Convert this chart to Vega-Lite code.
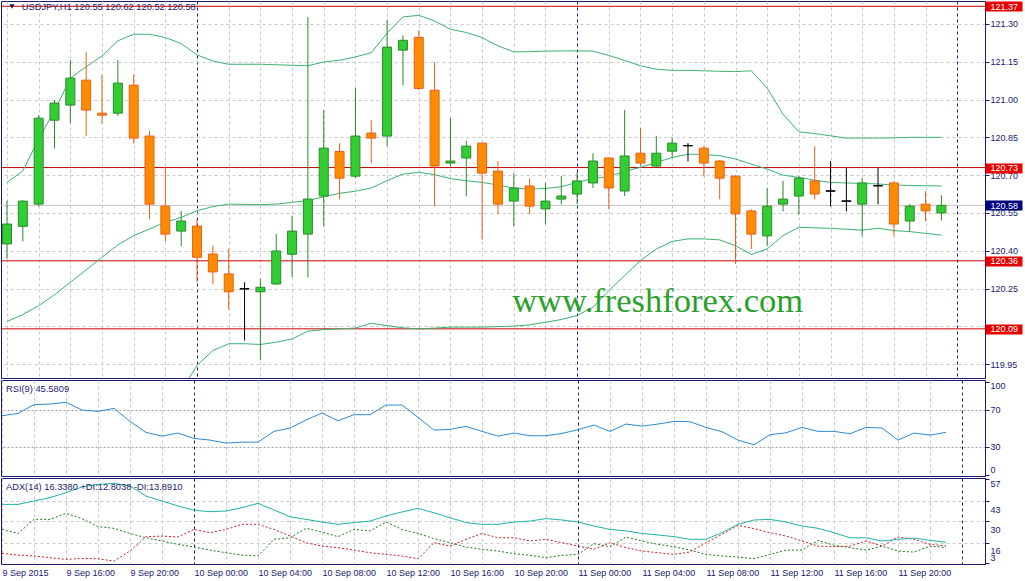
{
  "$schema": "https://vega.github.io/schema/vega-lite/v6.json",
  "padding": 0,
  "background": "white",
  "spacing": 0,
  "config": {
    "font": "Liberation Sans",
    "view": {"stroke": "#1a1a70", "strokeWidth": 1},
    "axis": {"labelFont": "Liberation Sans", "labelFontSize": 9, "labelColor": "#1a1a70", "tickColor": "#1a1a70", "domainColor": "#1a1a70", "labelOverlap": false}
  },
  "datasets": {
    "bars": [
      {"t":"2015-09-09T12:00:00Z","o":120.427,"h":120.599,"l":120.367,"c":120.506,"bbu":120.671,"bbm":120.119,"bbl":119.567,"rsi":63.5,"adx":40.8,"pdi":24.6,"mdi":9.1},
      {"t":"2015-09-09T13:00:00Z","o":120.497,"h":120.6,"l":120.437,"c":120.597,"bbu":120.717,"bbm":120.147,"bbl":119.576,"rsi":66.0,"adx":40.8,"pdi":22.0,"mdi":8.0},
      {"t":"2015-09-09T14:00:00Z","o":120.585,"h":120.938,"l":120.576,"c":120.926,"bbu":120.843,"bbm":120.182,"bbl":119.522,"rsi":75.4,"adx":43.0,"pdi":31.1,"mdi":7.4},
      {"t":"2015-09-09T15:00:00Z","o":120.918,"h":120.998,"l":120.806,"c":120.986,"bbu":120.955,"bbm":120.225,"bbl":119.494,"rsi":76.1,"adx":45.2,"pdi":31.1,"mdi":6.3},
      {"t":"2015-09-09T16:00:00Z","o":120.978,"h":121.157,"l":120.905,"c":121.085,"bbu":121.085,"bbm":120.275,"bbl":119.465,"rsi":77.9,"adx":48.4,"pdi":35.0,"mdi":5.2},
      {"t":"2015-09-09T17:00:00Z","o":121.077,"h":121.189,"l":120.854,"c":120.958,"bbu":121.13,"bbm":120.324,"bbl":119.518,"rsi":69.6,"adx":52.1,"pdi":31.6,"mdi":5.8},
      {"t":"2015-09-09T18:00:00Z","o":120.946,"h":121.098,"l":120.905,"c":120.938,"bbu":121.173,"bbm":120.374,"bbl":119.575,"rsi":68.2,"adx":53.8,"pdi":26.4,"mdi":5.6},
      {"t":"2015-09-09T19:00:00Z","o":120.946,"h":121.157,"l":120.935,"c":121.065,"bbu":121.233,"bbm":120.423,"bbl":119.613,"rsi":71.4,"adx":54.4,"pdi":25.3,"mdi":4.1},
      {"t":"2015-09-09T20:00:00Z","o":121.057,"h":121.098,"l":120.826,"c":120.847,"bbu":121.259,"bbm":120.46,"bbl":119.661,"rsi":57.4,"adx":52.7,"pdi":22.0,"mdi":10.6},
      {"t":"2015-09-09T21:00:00Z","o":120.855,"h":120.876,"l":120.525,"c":120.585,"bbu":121.259,"bbm":120.486,"bbl":119.714,"rsi":45.5,"adx":46.2,"pdi":19.2,"mdi":19.9},
      {"t":"2015-09-09T22:00:00Z","o":120.577,"h":120.735,"l":120.437,"c":120.466,"bbu":121.246,"bbm":120.513,"bbl":119.78,"rsi":41.5,"adx":43.0,"pdi":17.1,"mdi":20.3},
      {"t":"2015-09-09T23:00:00Z","o":120.478,"h":120.558,"l":120.418,"c":120.518,"bbu":121.222,"bbm":120.532,"bbl":119.843,"rsi":44.8,"adx":39.8,"pdi":14.9,"mdi":19.7},
      {"t":"2015-09-10T00:00:00Z","o":120.498,"h":120.526,"l":120.275,"c":120.374,"bbu":121.177,"bbm":120.559,"bbl":119.945,"rsi":39.0,"adx":37.0,"pdi":13.2,"mdi":24.6},
      {"t":"2015-09-10T01:00:00Z","o":120.387,"h":120.42,"l":120.266,"c":120.316,"bbu":121.153,"bbm":120.575,"bbl":120.004,"rsi":37.2,"adx":36.1,"pdi":11.2,"mdi":22.5},
      {"t":"2015-09-10T02:00:00Z","o":120.308,"h":120.407,"l":120.167,"c":120.237,"bbu":121.14,"bbm":120.585,"bbl":120.031,"rsi":34.0,"adx":36.5,"pdi":9.5,"mdi":24.6},
      {"t":"2015-09-10T03:00:00Z","o":120.249,"h":120.275,"l":120.044,"c":120.249,"bbu":121.14,"bbm":120.584,"bbl":120.031,"rsi":35.0,"adx":38.7,"pdi":8.0,"mdi":27.9},
      {"t":"2015-09-10T04:00:00Z","o":120.237,"h":120.288,"l":119.967,"c":120.255,"bbu":121.14,"bbm":120.583,"bbl":120.028,"rsi":35.0,"adx":41.5,"pdi":7.4,"mdi":27.9},
      {"t":"2015-09-10T05:00:00Z","o":120.268,"h":120.466,"l":120.265,"c":120.399,"bbu":121.138,"bbm":120.585,"bbl":120.037,"rsi":46.6,"adx":37.2,"pdi":18.2,"mdi":24.6},
      {"t":"2015-09-10T06:00:00Z","o":120.386,"h":120.539,"l":120.295,"c":120.478,"bbu":121.136,"bbm":120.592,"bbl":120.05,"rsi":50.2,"adx":32.8,"pdi":19.2,"mdi":20.3},
      {"t":"2015-09-10T07:00:00Z","o":120.466,"h":121.328,"l":120.295,"c":120.605,"bbu":121.134,"bbm":120.599,"bbl":120.081,"rsi":58.8,"adx":31.1,"pdi":25.3,"mdi":16.0},
      {"t":"2015-09-10T08:00:00Z","o":120.617,"h":120.958,"l":120.497,"c":120.807,"bbu":121.149,"bbm":120.614,"bbl":120.087,"rsi":66.4,"adx":29.4,"pdi":22.9,"mdi":13.8},
      {"t":"2015-09-10T09:00:00Z","o":120.794,"h":120.826,"l":120.604,"c":120.688,"bbu":121.156,"bbm":120.628,"bbl":120.09,"rsi":58.1,"adx":27.9,"pdi":19.9,"mdi":12.8},
      {"t":"2015-09-10T10:00:00Z","o":120.696,"h":121.045,"l":120.688,"c":120.855,"bbu":121.169,"bbm":120.636,"bbl":120.093,"rsi":64.6,"adx":29.0,"pdi":24.6,"mdi":11.2},
      {"t":"2015-09-10T11:00:00Z","o":120.867,"h":120.92,"l":120.747,"c":120.847,"bbu":121.186,"bbm":120.649,"bbl":120.112,"rsi":64.6,"adx":30.0,"pdi":23.6,"mdi":9.5},
      {"t":"2015-09-10T12:00:00Z","o":120.855,"h":121.316,"l":120.814,"c":121.208,"bbu":121.263,"bbm":120.678,"bbl":120.103,"rsi":75.0,"adx":33.3,"pdi":29.4,"mdi":8.4},
      {"t":"2015-09-10T13:00:00Z","o":121.196,"h":121.255,"l":121.056,"c":121.235,"bbu":121.328,"bbm":120.704,"bbl":120.094,"rsi":75.0,"adx":35.9,"pdi":24.6,"mdi":7.4},
      {"t":"2015-09-10T14:00:00Z","o":121.247,"h":121.275,"l":121.037,"c":121.044,"bbu":121.334,"bbm":120.711,"bbl":120.09,"rsi":61.7,"adx":38.2,"pdi":22.0,"mdi":5.6},
      {"t":"2015-09-10T15:00:00Z","o":121.037,"h":121.148,"l":120.576,"c":120.736,"bbu":121.312,"bbm":120.702,"bbl":120.093,"rsi":48.0,"adx":35.4,"pdi":18.6,"mdi":16.0},
      {"t":"2015-09-10T16:00:00Z","o":120.748,"h":120.927,"l":120.735,"c":120.756,"bbu":121.279,"bbm":120.686,"bbl":120.097,"rsi":48.7,"adx":32.2,"pdi":16.0,"mdi":13.8},
      {"t":"2015-09-10T17:00:00Z","o":120.768,"h":120.836,"l":120.616,"c":120.815,"bbu":121.266,"bbm":120.678,"bbl":120.097,"rsi":52.0,"adx":29.0,"pdi":13.2,"mdi":18.2},
      {"t":"2015-09-10T18:00:00Z","o":120.827,"h":120.83,"l":120.444,"c":120.708,"bbu":121.246,"bbm":120.671,"bbl":120.097,"rsi":46.6,"adx":27.9,"pdi":11.7,"mdi":22.0},
      {"t":"2015-09-10T19:00:00Z","o":120.716,"h":120.756,"l":120.544,"c":120.585,"bbu":121.213,"bbm":120.661,"bbl":120.099,"rsi":41.5,"adx":27.9,"pdi":10.6,"mdi":19.2},
      {"t":"2015-09-10T20:00:00Z","o":120.597,"h":120.708,"l":120.497,"c":120.649,"bbu":121.189,"bbm":120.649,"bbl":120.101,"rsi":44.8,"adx":29.4,"pdi":8.9,"mdi":19.2},
      {"t":"2015-09-10T21:00:00Z","o":120.657,"h":120.688,"l":120.544,"c":120.577,"bbu":121.19,"bbm":120.645,"bbl":120.106,"rsi":41.9,"adx":30.0,"pdi":7.8,"mdi":17.1},
      {"t":"2015-09-10T22:00:00Z","o":120.566,"h":120.669,"l":120.505,"c":120.597,"bbu":121.192,"bbm":120.647,"bbl":120.116,"rsi":41.9,"adx":31.6,"pdi":6.3,"mdi":18.2},
      {"t":"2015-09-10T23:00:00Z","o":120.605,"h":120.696,"l":120.584,"c":120.617,"bbu":121.193,"bbm":120.654,"bbl":120.127,"rsi":44.4,"adx":30.7,"pdi":7.8,"mdi":16.0},
      {"t":"2015-09-11T00:00:00Z","o":120.625,"h":120.712,"l":120.584,"c":120.677,"bbu":121.193,"bbm":120.671,"bbl":120.143,"rsi":48.4,"adx":29.4,"pdi":8.4,"mdi":13.8},
      {"t":"2015-09-11T01:00:00Z","o":120.669,"h":120.787,"l":120.649,"c":120.756,"bbu":121.192,"bbm":120.687,"bbl":120.176,"rsi":53.4,"adx":26.8,"pdi":15.4,"mdi":11.7},
      {"t":"2015-09-11T02:00:00Z","o":120.768,"h":120.77,"l":120.564,"c":120.649,"bbu":121.175,"bbm":120.694,"bbl":120.242,"rsi":46.6,"adx":24.6,"pdi":13.4,"mdi":16.0},
      {"t":"2015-09-11T03:00:00Z","o":120.637,"h":120.959,"l":120.617,"c":120.776,"bbu":121.155,"bbm":120.715,"bbl":120.301,"rsi":54.5,"adx":23.6,"pdi":19.7,"mdi":12.8},
      {"t":"2015-09-11T04:00:00Z","o":120.787,"h":120.888,"l":120.735,"c":120.748,"bbu":121.134,"bbm":120.731,"bbl":120.361,"rsi":52.3,"adx":22.0,"pdi":17.1,"mdi":10.6},
      {"t":"2015-09-11T05:00:00Z","o":120.736,"h":120.856,"l":120.731,"c":120.787,"bbu":121.12,"bbm":120.75,"bbl":120.407,"rsi":54.5,"adx":21.0,"pdi":14.9,"mdi":9.5},
      {"t":"2015-09-11T06:00:00Z","o":120.795,"h":120.848,"l":120.768,"c":120.827,"bbu":121.116,"bbm":120.77,"bbl":120.437,"rsi":57.4,"adx":19.9,"pdi":13.4,"mdi":8.4},
      {"t":"2015-09-11T07:00:00Z","o":120.817,"h":120.827,"l":120.754,"c":120.817,"bbu":121.116,"bbm":120.783,"bbl":120.447,"rsi":57.0,"adx":18.2,"pdi":11.2,"mdi":10.0},
      {"t":"2015-09-11T08:00:00Z","o":120.807,"h":120.815,"l":120.695,"c":120.748,"bbu":121.114,"bbm":120.782,"bbl":120.447,"rsi":50.9,"adx":18.2,"pdi":8.4,"mdi":16.0},
      {"t":"2015-09-11T09:00:00Z","o":120.756,"h":120.76,"l":120.604,"c":120.688,"bbu":121.112,"bbm":120.777,"bbl":120.443,"rsi":46.2,"adx":22.5,"pdi":7.4,"mdi":21.4},
      {"t":"2015-09-11T10:00:00Z","o":120.696,"h":120.7,"l":120.348,"c":120.546,"bbu":121.111,"bbm":120.764,"bbl":120.42,"rsi":37.2,"adx":27.9,"pdi":6.7,"mdi":27.2},
      {"t":"2015-09-11T11:00:00Z","o":120.558,"h":120.564,"l":120.407,"c":120.466,"bbu":121.114,"bbm":120.744,"bbl":120.385,"rsi":32.2,"adx":30.7,"pdi":5.6,"mdi":25.1},
      {"t":"2015-09-11T12:00:00Z","o":120.459,"h":120.649,"l":120.419,"c":120.577,"bbu":121.045,"bbm":120.724,"bbl":120.407,"rsi":43.0,"adx":31.1,"pdi":8.4,"mdi":22.5},
      {"t":"2015-09-11T13:00:00Z","o":120.585,"h":120.677,"l":120.556,"c":120.605,"bbu":120.942,"bbm":120.7,"bbl":120.46,"rsi":45.1,"adx":29.4,"pdi":11.2,"mdi":20.3},
      {"t":"2015-09-11T14:00:00Z","o":120.617,"h":120.696,"l":120.544,"c":120.688,"bbu":120.872,"bbm":120.691,"bbl":120.493,"rsi":50.9,"adx":26.8,"pdi":11.2,"mdi":17.1},
      {"t":"2015-09-11T15:00:00Z","o":120.677,"h":120.815,"l":120.604,"c":120.625,"bbu":120.865,"bbm":120.68,"bbl":120.491,"rsi":46.6,"adx":25.3,"pdi":17.5,"mdi":13.8},
      {"t":"2015-09-11T16:00:00Z","o":120.637,"h":120.756,"l":120.576,"c":120.637,"bbu":120.856,"bbm":120.671,"bbl":120.489,"rsi":46.6,"adx":22.5,"pdi":14.3,"mdi":13.4},
      {"t":"2015-09-11T17:00:00Z","o":120.597,"h":120.728,"l":120.556,"c":120.597,"bbu":120.847,"bbm":120.669,"bbl":120.485,"rsi":44.1,"adx":19.2,"pdi":12.8,"mdi":13.8},
      {"t":"2015-09-11T18:00:00Z","o":120.585,"h":120.688,"l":120.459,"c":120.669,"bbu":120.847,"bbm":120.667,"bbl":120.482,"rsi":50.9,"adx":19.2,"pdi":11.2,"mdi":17.1},
      {"t":"2015-09-11T19:00:00Z","o":120.658,"h":120.728,"l":120.584,"c":120.658,"bbu":120.847,"bbm":120.665,"bbl":120.489,"rsi":50.2,"adx":17.1,"pdi":13.8,"mdi":13.8},
      {"t":"2015-09-11T20:00:00Z","o":120.669,"h":120.677,"l":120.459,"c":120.506,"bbu":120.848,"bbm":120.661,"bbl":120.48,"rsi":37.2,"adx":18.2,"pdi":10.6,"mdi":19.7},
      {"t":"2015-09-11T21:00:00Z","o":120.518,"h":120.585,"l":120.477,"c":120.577,"bbu":120.85,"bbm":120.659,"bbl":120.476,"rsi":44.8,"adx":19.0,"pdi":9.9,"mdi":18.2},
      {"t":"2015-09-11T22:00:00Z","o":120.585,"h":120.637,"l":120.517,"c":120.558,"bbu":120.85,"bbm":120.658,"bbl":120.469,"rsi":42.6,"adx":17.5,"pdi":13.8,"mdi":14.9},
      {"t":"2015-09-11T23:00:00Z","o":120.55,"h":120.62,"l":120.52,"c":120.58,"bbu":120.85,"bbm":120.657,"bbl":120.462,"rsi":45.5809,"adx":16.338,"pdi":12.8038,"mdi":13.891}
    ]
  },
  "vconcat": [
    {
      "width": 984,
      "height": 377,
      "resolve": {"axis": {"x": "independent", "y": "independent"}},
      "layer": [
        {
          "data": {"values": [{"level": 121.37}, {"level": 120.73}, {"level": 120.36}, {"level": 120.09}]},
          "mark": {"type": "rule", "color": "#c80000", "strokeWidth": 1},
          "encoding": {
            "y": {"field": "level", "type": "quantitative",
              "scale": {"domain": [119.895, 121.391], "nice": false, "zero": false},
              "axis": {"orient": "right", "title": null, "values": [121.37, 120.73, 120.36, 120.09], "format": ".2f", "domain": false, "grid": false, "tickSize": 37, "tickWidth": 10, "tickColor": "#e80000", "labelColor": "#ffffff", "labelPadding": -32, "zindex": 1}}
          }
        },
        {
          "data": {"values": [{"price": 120.58}]},
          "mark": {"type": "rule", "color": "#c4c4c4", "strokeWidth": 1},
          "encoding": {
            "y": {"field": "price", "type": "quantitative",
              "axis": {"orient": "right", "title": null, "values": [120.58], "format": ".2f", "domain": false, "grid": false, "tickSize": 37, "tickWidth": 10, "tickColor": "#000080", "labelColor": "#ffffff", "labelPadding": -32, "zindex": 1}}
          }
        },
        {
          "data": {"name": "bars"},
          "mark": {"type": "line", "color": "#3cb371", "strokeWidth": 1, "clip": true},
          "encoding": {"x": {"field": "t", "type": "temporal", "axis": null}, "y": {"field": "bbu", "type": "quantitative", "axis": null}}
        },
        {
          "data": {"name": "bars"},
          "mark": {"type": "line", "color": "#3cb371", "strokeWidth": 1, "clip": true},
          "encoding": {"x": {"field": "t", "type": "temporal", "axis": null}, "y": {"field": "bbm", "type": "quantitative", "axis": null}}
        },
        {
          "data": {"name": "bars"},
          "mark": {"type": "line", "color": "#3cb371", "strokeWidth": 1, "clip": true},
          "encoding": {"x": {"field": "t", "type": "temporal", "axis": null}, "y": {"field": "bbl", "type": "quantitative", "axis": null}}
        },
        {
          "data": {"name": "bars"},
          "mark": {"type": "rule", "strokeWidth": 1, "clip": true},
          "encoding": {
            "x": {"field": "t", "type": "temporal",
              "scale": {"type": "utc", "domain": [{"year": 2015, "month": 9, "date": 9, "hours": 11, "minutes": 56, "seconds": 15, "utc": true}, {"year": 2015, "month": 9, "date": 12, "hours": 1, "minutes": 26, "seconds": 15, "utc": true}]},
              "axis": {"orient": "bottom", "title": null, "labels": false, "ticks": false, "domain": false, "grid": true, "gridColor": "#c8c8c8", "gridDash": [3, 3],
                "values": [{"year":2015,"month":9,"date":9,"hours":12,"utc":true},{"year":2015,"month":9,"date":9,"hours":14,"utc":true},{"year":2015,"month":9,"date":9,"hours":16,"utc":true},{"year":2015,"month":9,"date":9,"hours":18,"utc":true},{"year":2015,"month":9,"date":9,"hours":20,"utc":true},{"year":2015,"month":9,"date":9,"hours":22,"utc":true},{"year":2015,"month":9,"date":10,"hours":2,"utc":true},{"year":2015,"month":9,"date":10,"hours":4,"utc":true},{"year":2015,"month":9,"date":10,"hours":6,"utc":true},{"year":2015,"month":9,"date":10,"hours":8,"utc":true},{"year":2015,"month":9,"date":10,"hours":10,"utc":true},{"year":2015,"month":9,"date":10,"hours":12,"utc":true},{"year":2015,"month":9,"date":10,"hours":14,"utc":true},{"year":2015,"month":9,"date":10,"hours":16,"utc":true},{"year":2015,"month":9,"date":10,"hours":18,"utc":true},{"year":2015,"month":9,"date":10,"hours":20,"utc":true},{"year":2015,"month":9,"date":10,"hours":22,"utc":true},{"year":2015,"month":9,"date":11,"hours":2,"utc":true},{"year":2015,"month":9,"date":11,"hours":4,"utc":true},{"year":2015,"month":9,"date":11,"hours":6,"utc":true},{"year":2015,"month":9,"date":11,"hours":8,"utc":true},{"year":2015,"month":9,"date":11,"hours":10,"utc":true},{"year":2015,"month":9,"date":11,"hours":12,"utc":true},{"year":2015,"month":9,"date":11,"hours":14,"utc":true},{"year":2015,"month":9,"date":11,"hours":16,"utc":true},{"year":2015,"month":9,"date":11,"hours":18,"utc":true},{"year":2015,"month":9,"date":11,"hours":20,"utc":true},{"year":2015,"month":9,"date":11,"hours":22,"utc":true}]}},
            "y": {"field": "l", "type": "quantitative",
              "axis": {"orient": "right", "title": null, "values": [119.95, 120.1, 120.25, 120.4, 120.55, 120.7, 120.85, 121, 121.15, 121.3], "labelExpr": "abs(datum.value - 120.1) < 0.001 ? '' : format(datum.value, '.2f')", "tickSize": 4, "labelPadding": 1, "grid": true, "gridColor": "#c8c8c8", "gridDash": [3, 3], "zindex": 0}},
            "y2": {"field": "h"},
            "color": {"condition": [{"test": "datum.c > datum.o", "value": "#2a8a2a"}, {"test": "datum.c < datum.o", "value": "#e8601c"}], "value": "#000000"}
          }
        },
        {
          "data": {"name": "bars"},
          "mark": {"type": "bar", "size": 9, "strokeWidth": 1, "clip": true},
          "encoding": {
            "x": {"field": "t", "type": "temporal",
              "axis": {"orient": "bottom", "title": null, "labels": false, "ticks": false, "domain": false, "grid": true, "gridColor": "#1a1a80", "gridDash": [3, 3],
                "values": [{"year":2015,"month":9,"date":10,"hours":0,"utc":true},{"year":2015,"month":9,"date":11,"hours":0,"utc":true},{"year":2015,"month":9,"date":12,"hours":0,"utc":true}]}},
            "y": {"field": "o", "type": "quantitative", "axis": null},
            "y2": {"field": "c"},
            "fill": {"condition": [{"test": "datum.c > datum.o", "value": "#32cd32"}, {"test": "datum.c < datum.o", "value": "#ff8c00"}], "value": "#000000"},
            "stroke": {"condition": [{"test": "datum.c > datum.o", "value": "#2a8a2a"}, {"test": "datum.c < datum.o", "value": "#e8601c"}], "value": "#000000"}
          }
        },
        {
          "data": {"name": "bars"},
          "transform": [{"filter": "datum.o == datum.c"}],
          "mark": {"type": "tick", "orient": "horizontal", "size": 10, "thickness": 1, "color": "#000000", "clip": true},
          "encoding": {
            "x": {"field": "t", "type": "temporal", "axis": null},
            "y": {"field": "c", "type": "quantitative", "axis": null}
          }
        },
        {
          "data": {"values": [{"label": "USDJPY,H1"}]},
          "mark": {"type": "point", "shape": "triangle-down", "filled": true, "size": 26, "color": "#1a1a70", "opacity": 1},
          "encoding": {
            "x": {"datum": {"year": 2015, "month": 9, "date": 9, "hours": 12, "minutes": 19, "utc": true}, "type": "temporal", "axis": null},
            "y": {"datum": 121.369, "type": "quantitative", "axis": null}
          }
        },
        {
          "data": {"values": [{"label": "USDJPY,H1  120.55 120.62 120.52 120.58"}]},
          "mark": {"type": "text", "align": "left", "baseline": "middle", "fontSize": 9.3, "color": "#1a1a70"},
          "encoding": {
            "x": {"datum": {"year": 2015, "month": 9, "date": 9, "hours": 12, "minutes": 56, "utc": true}, "type": "temporal", "axis": null},
            "y": {"datum": 121.367, "type": "quantitative", "axis": null},
            "text": {"field": "label"}
          }
        },
        {
          "data": {"values": [{"label": "www.freshforex.com"}]},
          "mark": {"type": "text", "align": "center", "baseline": "alphabetic", "font": "Liberation Serif", "fontSize": 34.5, "color": "#2ca02c"},
          "encoding": {
            "x": {"datum": {"year": 2015, "month": 9, "date": 11, "hours": 5, "minutes": 5, "utc": true}, "type": "temporal", "axis": null},
            "y": {"datum": 120.155, "type": "quantitative", "axis": null},
            "text": {"field": "label"}
          }
        }
      ]
    },
    {
      "width": 984,
      "height": 96,
      "resolve": {"axis": {"x": "independent", "y": "independent"}},
      "layer": [
        {
          "data": {"name": "bars"},
          "mark": {"type": "line", "color": "#2b8bd6", "strokeWidth": 1, "clip": true},
          "encoding": {
            "x": {"field": "t", "type": "temporal",
              "scale": {"type": "utc", "domain": [{"year": 2015, "month": 9, "date": 9, "hours": 11, "minutes": 56, "seconds": 15, "utc": true}, {"year": 2015, "month": 9, "date": 12, "hours": 1, "minutes": 26, "seconds": 15, "utc": true}]},
              "axis": {"orient": "bottom", "title": null, "labels": false, "ticks": false, "domain": false, "grid": true, "gridColor": "#c8c8c8", "gridDash": [3, 3],
                "values": [{"year":2015,"month":9,"date":9,"hours":12,"utc":true},{"year":2015,"month":9,"date":9,"hours":14,"utc":true},{"year":2015,"month":9,"date":9,"hours":16,"utc":true},{"year":2015,"month":9,"date":9,"hours":18,"utc":true},{"year":2015,"month":9,"date":9,"hours":20,"utc":true},{"year":2015,"month":9,"date":9,"hours":22,"utc":true},{"year":2015,"month":9,"date":10,"hours":2,"utc":true},{"year":2015,"month":9,"date":10,"hours":4,"utc":true},{"year":2015,"month":9,"date":10,"hours":6,"utc":true},{"year":2015,"month":9,"date":10,"hours":8,"utc":true},{"year":2015,"month":9,"date":10,"hours":10,"utc":true},{"year":2015,"month":9,"date":10,"hours":12,"utc":true},{"year":2015,"month":9,"date":10,"hours":14,"utc":true},{"year":2015,"month":9,"date":10,"hours":16,"utc":true},{"year":2015,"month":9,"date":10,"hours":18,"utc":true},{"year":2015,"month":9,"date":10,"hours":20,"utc":true},{"year":2015,"month":9,"date":10,"hours":22,"utc":true},{"year":2015,"month":9,"date":11,"hours":2,"utc":true},{"year":2015,"month":9,"date":11,"hours":4,"utc":true},{"year":2015,"month":9,"date":11,"hours":6,"utc":true},{"year":2015,"month":9,"date":11,"hours":8,"utc":true},{"year":2015,"month":9,"date":11,"hours":10,"utc":true},{"year":2015,"month":9,"date":11,"hours":12,"utc":true},{"year":2015,"month":9,"date":11,"hours":14,"utc":true},{"year":2015,"month":9,"date":11,"hours":16,"utc":true},{"year":2015,"month":9,"date":11,"hours":18,"utc":true},{"year":2015,"month":9,"date":11,"hours":20,"utc":true},{"year":2015,"month":9,"date":11,"hours":22,"utc":true}]}},
            "y": {"field": "rsi", "type": "quantitative",
              "scale": {"domain": [-1.5, 102], "nice": false, "zero": false},
              "axis": {"orient": "right", "title": null, "values": [0, 30, 70, 100], "tickSize": 4, "labelPadding": 1, "labelFlush": 6, "grid": false}}
          }
        },
        {
          "data": {"values": [{"label": "RSI(9) 45.5809"}]},
          "mark": {"type": "text", "align": "left", "baseline": "middle", "fontSize": 9.3, "color": "#1a1a70"},
          "encoding": {
            "x": {"datum": {"year": 2015, "month": 9, "date": 9, "hours": 12, "minutes": 15, "utc": true}, "type": "temporal",
              "axis": {"orient": "bottom", "title": null, "labels": false, "ticks": false, "domain": false, "grid": true, "gridColor": "#1a1a80", "gridDash": [3, 3],
                "values": [{"year":2015,"month":9,"date":10,"hours":0,"utc":true},{"year":2015,"month":9,"date":11,"hours":0,"utc":true},{"year":2015,"month":9,"date":12,"hours":0,"utc":true}]}},
            "y": {"datum": 92, "type": "quantitative",
              "axis": {"orient": "right", "title": null, "values": [30, 70], "labels": false, "ticks": false, "domain": false, "grid": true, "gridColor": "#a0a0a0", "gridDash": [2, 2]}},
            "text": {"field": "label"}
          }
        }
      ]
    },
    {
      "width": 984,
      "height": 86,
      "resolve": {"axis": {"x": "independent", "y": "independent"}},
      "layer": [
        {
          "data": {"name": "bars"},
          "mark": {"type": "line", "color": "#1e7b1e", "strokeWidth": 1, "strokeDash": [2, 2], "clip": true},
          "encoding": {
            "x": {"field": "t", "type": "temporal",
              "scale": {"type": "utc", "domain": [{"year": 2015, "month": 9, "date": 9, "hours": 11, "minutes": 56, "seconds": 15, "utc": true}, {"year": 2015, "month": 9, "date": 12, "hours": 1, "minutes": 26, "seconds": 15, "utc": true}]},
              "axis": {"orient": "bottom", "title": null, "grid": true, "gridColor": "#c8c8c8", "gridDash": [3, 3], "ticks": false, "tickSize": 0, "domain": false, "labelAlign": "left", "labelBaseline": "top", "labelPadding": 4, "labelFlush": false,
                "labelExpr": "utchours(datum.value) % 4 != 0 ? '' : (utcdate(datum.value) == 9 && utchours(datum.value) == 12 ? '9 Sep 2015' : utcFormat(datum.value, '%-d %b %H:%M'))",
                "values": [{"year":2015,"month":9,"date":9,"hours":12,"utc":true},{"year":2015,"month":9,"date":9,"hours":14,"utc":true},{"year":2015,"month":9,"date":9,"hours":16,"utc":true},{"year":2015,"month":9,"date":9,"hours":18,"utc":true},{"year":2015,"month":9,"date":9,"hours":20,"utc":true},{"year":2015,"month":9,"date":9,"hours":22,"utc":true},{"year":2015,"month":9,"date":10,"hours":0,"utc":true},{"year":2015,"month":9,"date":10,"hours":2,"utc":true},{"year":2015,"month":9,"date":10,"hours":4,"utc":true},{"year":2015,"month":9,"date":10,"hours":6,"utc":true},{"year":2015,"month":9,"date":10,"hours":8,"utc":true},{"year":2015,"month":9,"date":10,"hours":10,"utc":true},{"year":2015,"month":9,"date":10,"hours":12,"utc":true},{"year":2015,"month":9,"date":10,"hours":14,"utc":true},{"year":2015,"month":9,"date":10,"hours":16,"utc":true},{"year":2015,"month":9,"date":10,"hours":18,"utc":true},{"year":2015,"month":9,"date":10,"hours":20,"utc":true},{"year":2015,"month":9,"date":10,"hours":22,"utc":true},{"year":2015,"month":9,"date":11,"hours":0,"utc":true},{"year":2015,"month":9,"date":11,"hours":2,"utc":true},{"year":2015,"month":9,"date":11,"hours":4,"utc":true},{"year":2015,"month":9,"date":11,"hours":6,"utc":true},{"year":2015,"month":9,"date":11,"hours":8,"utc":true},{"year":2015,"month":9,"date":11,"hours":10,"utc":true},{"year":2015,"month":9,"date":11,"hours":12,"utc":true},{"year":2015,"month":9,"date":11,"hours":14,"utc":true},{"year":2015,"month":9,"date":11,"hours":16,"utc":true},{"year":2015,"month":9,"date":11,"hours":18,"utc":true},{"year":2015,"month":9,"date":11,"hours":20,"utc":true},{"year":2015,"month":9,"date":11,"hours":22,"utc":true}]}},
            "y": {"field": "pdi", "type": "quantitative",
              "scale": {"domain": [2.2, 57.9], "nice": false, "zero": false},
              "axis": {"orient": "right", "title": null, "values": [16, 30, 43], "tickSize": 4, "labelPadding": 1, "labelOffset": 8, "grid": true, "gridColor": "#c8c8c8", "gridDash": [3, 3]}}
          }
        },
        {
          "data": {"name": "bars"},
          "mark": {"type": "line", "color": "#cc2020", "strokeWidth": 1, "strokeDash": [2, 2], "clip": true},
          "encoding": {
            "x": {"field": "t", "type": "temporal",
              "axis": {"orient": "bottom", "title": null, "labels": false, "ticks": false, "domain": false, "grid": true, "gridColor": "#1a1a80", "gridDash": [3, 3],
                "values": [{"year":2015,"month":9,"date":10,"hours":0,"utc":true},{"year":2015,"month":9,"date":11,"hours":0,"utc":true},{"year":2015,"month":9,"date":12,"hours":0,"utc":true}]}},
            "y": {"field": "mdi", "type": "quantitative",
              "axis": {"orient": "right", "title": null, "values": [3, 57], "tickSize": 4, "labelPadding": 1, "labelFlush": 6, "grid": false}}
          }
        },
        {
          "data": {"name": "bars"},
          "mark": {"type": "line", "color": "#20b2aa", "strokeWidth": 1, "clip": true},
          "encoding": {"x": {"field": "t", "type": "temporal", "axis": null}, "y": {"field": "adx", "type": "quantitative", "axis": null}}
        },
        {
          "data": {"values": [{"label": "ADX(14) 16.3380 +DI:12.8038 -DI:13.8910"}]},
          "mark": {"type": "text", "align": "left", "baseline": "middle", "fontSize": 9.3, "color": "#1a1a70"},
          "encoding": {
            "x": {"datum": {"year": 2015, "month": 9, "date": 9, "hours": 12, "minutes": 15, "utc": true}, "type": "temporal", "axis": null},
            "y": {"datum": 52.1, "type": "quantitative", "axis": null},
            "text": {"field": "label"}
          }
        }
      ]
    }
  ]
}
